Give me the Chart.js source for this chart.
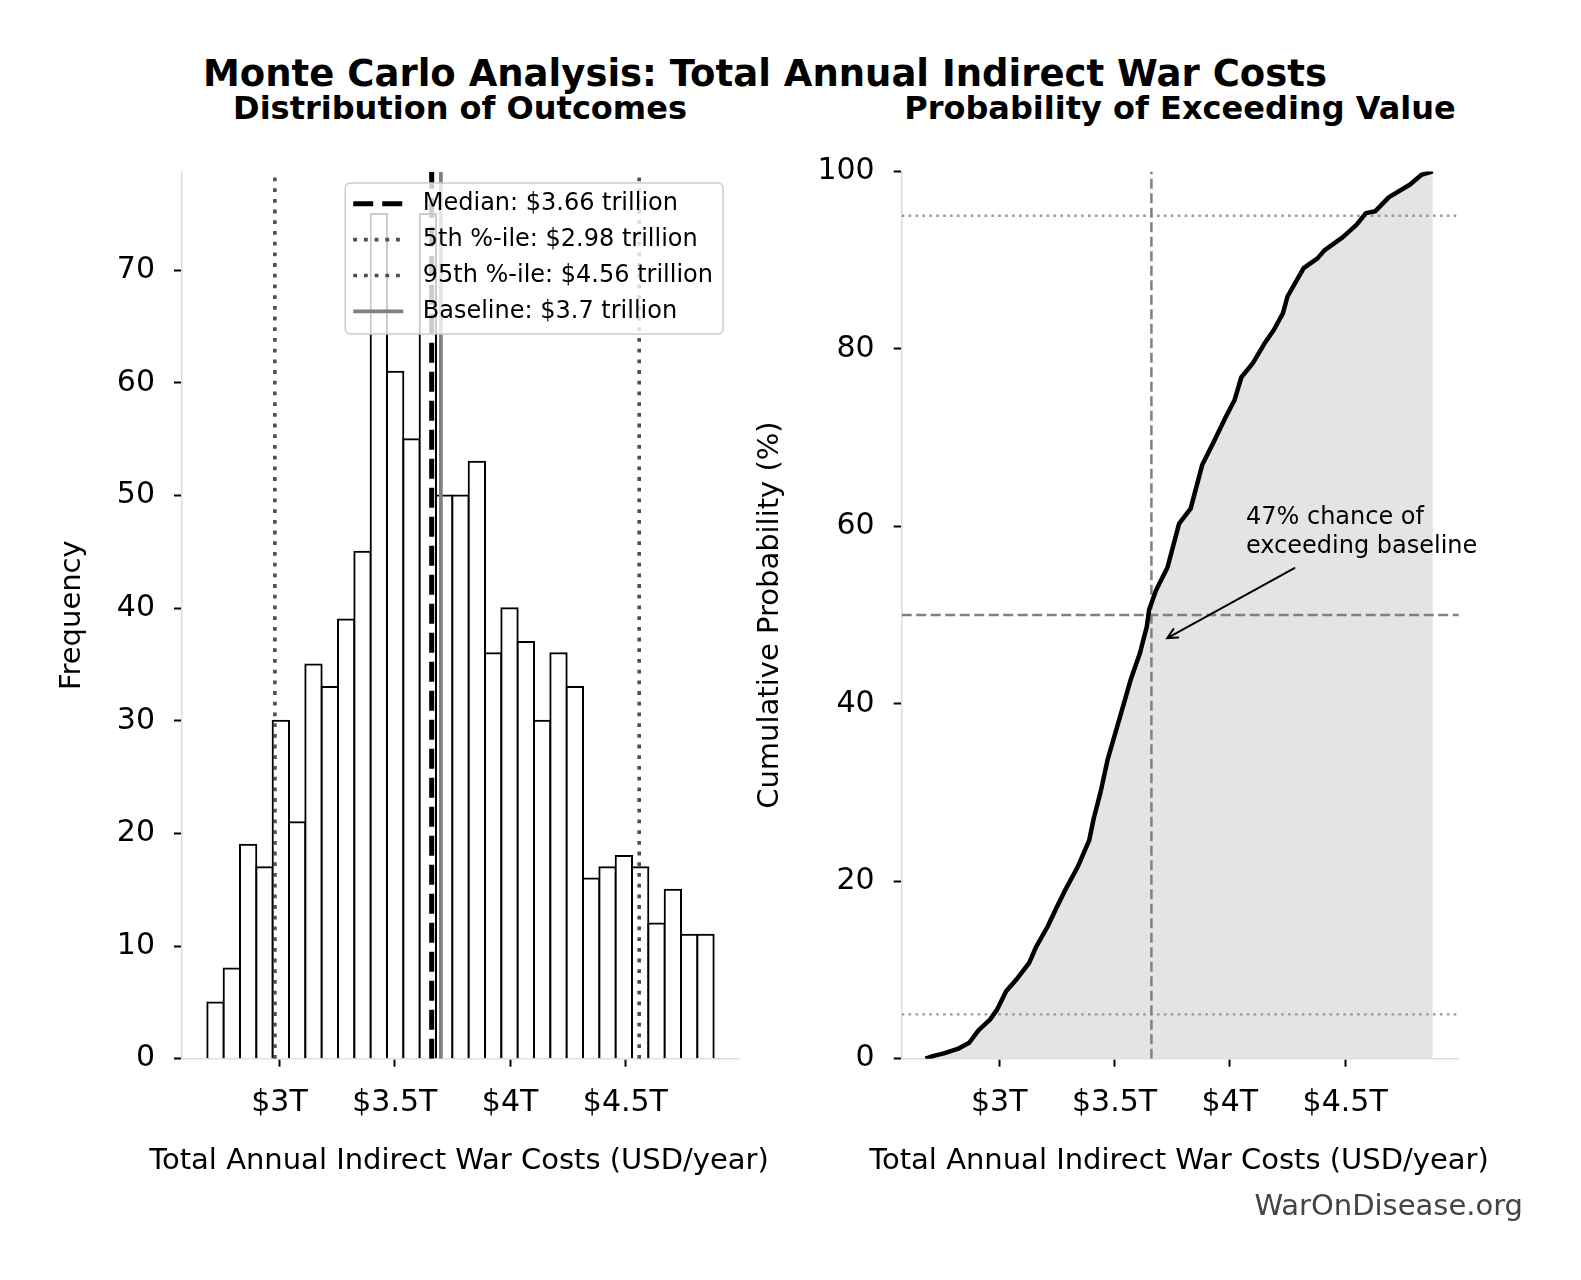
<!DOCTYPE html>
<html>
<head>
<meta charset="utf-8">
<title>Monte Carlo Analysis: Total Annual Indirect War Costs</title>
<script src="https://cdn.jsdelivr.net/npm/chart.js@4.4.0/dist/chart.umd.min.js"></script>
<style>
  html, body { margin: 0; padding: 0; background: #fff; }
  body { width: 1581px; height: 1280px; position: relative; overflow: hidden; font-family: 'DejaVu Sans', sans-serif; }
  .txt { position: absolute; white-space: nowrap; line-height: 1; transform: translate(-50%, -50%); color: #000; }
  .panel { position: absolute; }
  .xlabel { font-size: 29px; top: 1159px; }
</style>
</head>
<body>
<div class="txt" style="left:765px; top:73px; font-size:37px; font-weight:bold;">Monte Carlo Analysis: Total Annual Indirect War Costs</div>
<div class="txt" style="left:460px; top:108px; font-size:32px; font-weight:bold;">Distribution of Outcomes</div>
<div class="txt" style="left:1180px; top:108px; font-size:32px; font-weight:bold;">Probability of Exceeding Value</div>

<div class="panel" style="left:0px; top:150px;"><canvas id="histChart" width="760" height="1050"></canvas></div>
<div class="panel" style="left:740px; top:150px;"><canvas id="cdfChart" width="841" height="1050"></canvas></div>

<!-- x-axis titles: wider than the plot area, so kept out of Chart.js (it would squeeze them) -->
<div class="txt xlabel" style="left:459px;">Total Annual Indirect War Costs (USD/year)</div>
<div class="txt xlabel" style="left:1179px;">Total Annual Indirect War Costs (USD/year)</div>

<div class="txt" style="left:1523px; top:1205px; font-size:29px; color:#444; transform:translate(-100%, -50%);">WarOnDisease.org</div>

<script>
// ---- data ----
// histogram bin edges (USD trillions) and counts (1000 simulated draws)
const binEdges = [2.6870, 2.7578, 2.8287, 2.8995, 2.9704, 3.0412, 3.1120, 3.1829, 3.2537, 3.3246,
                  3.3954, 3.4662, 3.5371, 3.6079, 3.6787, 3.7496, 3.8204, 3.8913, 3.9621, 4.0329,
                  4.1038, 4.1746, 4.2454, 4.3163, 4.3871, 4.4580, 4.5288, 4.5996, 4.6705, 4.7413,
                  4.8121, 4.8830];
const binCounts = [5, 8, 19, 17, 30, 21, 35, 33, 39, 45,
                   75, 61, 55, 75, 50, 50, 53, 36, 40, 37,
                   30, 36, 33, 16, 17, 18, 17, 12, 15, 11, 11];

const medianValue = 3.66;
const p5Value = 2.98;
const p95Value = 4.56;
const baselineValue = 3.7;

// empirical cumulative distribution (x in USD trillions, y in %)
const cdfX = [2.68, 2.72, 2.76, 2.82, 2.87, 2.91, 2.96, 2.99, 3.03, 3.08,
              3.13, 3.16, 3.21, 3.25, 3.29, 3.34, 3.39, 3.41, 3.44, 3.47,
              3.52, 3.57, 3.61, 3.64, 3.65, 3.68, 3.73, 3.78, 3.83, 3.88,
              3.93, 3.98, 4.02, 4.05, 4.10, 4.15, 4.19, 4.23, 4.25, 4.32,
              4.38, 4.41, 4.49, 4.55, 4.59, 4.63, 4.69, 4.78, 4.83, 4.88];
const cdfY = [0, 0.35, 0.6, 1.1, 1.8, 3.2, 4.4, 5.5, 7.6, 9.1,
              10.8, 12.6, 14.9, 17.1, 19.2, 21.6, 24.6, 27.1, 30.1, 33.7,
              38.2, 42.7, 45.7, 48.7, 50.6, 52.8, 55.4, 60.3, 62.0, 66.9,
              69.5, 72.2, 74.2, 76.8, 78.4, 80.6, 82.1, 84.0, 85.9, 89.1,
              90.2, 91.1, 92.6, 94.0, 95.3, 95.5, 97.1, 98.5, 99.6, 100];

const xTickValues = [3, 3.5, 4, 4.5];
const xTickLabels = ['$3T', '$3.5T', '$4T', '$4.5T'];
const freqTickStep = 10;
const probTickStep = 20;

const exceedPct = 47;
const annotationLines = [exceedPct + '% chance of', 'exceeding baseline'];
const annotationPoint = [baselineValue, exceedPct];   // arrow head
const annotationTextAt = [4.07, 57];                  // left / baseline of last line
const annotationTail = [4.28, 55.3];                  // arrow start

// ---- shared settings ----
const FONT = "'DejaVu Sans', sans-serif";
Chart.defaults.font.family = FONT;
Chart.defaults.color = '#000';

// x limits like matplotlib's 5% margins around the data
const dataSpan = binEdges[binEdges.length - 1] - binEdges[0];
const xMin = binEdges[0] - 0.05 * dataSpan;
const xMax = binEdges[binEdges.length - 1] + 0.05 * dataSpan;
const freqMax = Math.max(...binCounts) * 1.05;

function xAxis() {
    return {
        type: 'linear',
        min: xMin,
        max: xMax,
        offset: false,
        afterBuildTicks: function(scale) {
            scale.ticks = xTickValues.map(v => ({ value: v }));
        },
        afterFit: function(scale) {
            scale.height = 141.3;
            scale.paddingLeft = 0;
            scale.paddingRight = 0;
        },
        ticks: {
            callback: function(value) {
                const i = xTickValues.indexOf(value);
                return i >= 0 ? xTickLabels[i] : '';
            },
            font: { size: 30 },
            color: '#000',
            padding: 19,
            maxRotation: 0,
            autoSkip: false
        },
        grid: {
            display: true,
            drawOnChartArea: false,
            drawTicks: true,
            tickLength: 8,
            tickColor: '#000',
            tickWidth: 2,
            offset: false
        },
        border: { display: true, color: '#dddddd', width: 1.5 },
        title: { display: false }
    };
}

function yAxis(opts) {
    return {
        type: 'linear',
        min: 0,
        max: opts.max,
        afterFit: function(scale) {
            scale.width = opts.width;
            scale.paddingTop = 0;
            scale.paddingBottom = 0;
        },
        ticks: {
            stepSize: opts.step,
            includeBounds: false,
            font: { size: 30 },
            color: '#000',
            padding: 19
        },
        grid: {
            display: true,
            drawOnChartArea: false,
            drawTicks: true,
            tickLength: 8,
            tickColor: '#000',
            tickWidth: 2
        },
        border: { display: true, color: '#dddddd', width: 1.5 },
        title: {
            display: true,
            text: opts.title,
            font: { size: 29 },
            color: '#000',
            padding: { top: opts.titlePad, bottom: 0 }
        }
    };
}

function vLine(x, yTop, style) {
    return Object.assign({
        type: 'line',
        data: [{ x: x, y: 0 }, { x: x, y: yTop }],
        pointRadius: 0,
        fill: false,
        tension: 0,
        borderCapStyle: 'butt'
    }, style);
}

function hLine(y, style) {
    return Object.assign({
        type: 'line',
        data: [{ x: xMin, y: y }, { x: xMax, y: y }],
        pointRadius: 0,
        fill: false,
        tension: 0,
        borderCapStyle: 'butt'
    }, style);
}

// legend box drawn inside the plot, like matplotlib's
const histLegend = {
    id: 'histLegend',
    afterDatasetsDraw(chart) {
        const ctx = chart.ctx;
        const area = chart.chartArea;
        const items = chart.data.datasets.filter(d => d.legendText);
        ctx.save();
        ctx.font = '24px ' + FONT;
        const textW = Math.max(...items.map(d => ctx.measureText(d.legendText).width));
        const rowH = 35.9, padX = 8, sampleW = 50, gap = 19.5;
        const boxW = padX + sampleW + gap + textW + 10;
        const boxH = rowH * items.length + 7.4;
        const x0 = area.right - 16 - boxW;
        const y0 = area.top + 11.3;

        ctx.beginPath();
        ctx.roundRect(x0, y0, boxW, boxH, 5);
        ctx.fillStyle = 'rgba(255, 255, 255, 0.8)';
        ctx.fill();
        ctx.strokeStyle = '#cccccc';
        ctx.lineWidth = 1.5;
        ctx.stroke();

        items.forEach((d, i) => {
            const cy = y0 + 20.7 + i * rowH;
            ctx.beginPath();
            ctx.setLineDash(d.borderDash || []);
            ctx.lineWidth = d.borderWidth;
            ctx.strokeStyle = d.borderColor;
            ctx.lineCap = 'butt';
            ctx.moveTo(x0 + padX, cy);
            ctx.lineTo(x0 + padX + sampleW, cy);
            ctx.stroke();
            ctx.setLineDash([]);
            ctx.fillStyle = '#000';
            ctx.textBaseline = 'middle';
            ctx.textAlign = 'left';
            ctx.fillText(d.legendText, x0 + padX + sampleW + gap, cy);
        });
        ctx.restore();
    }
};

// text + arrow annotation on the CDF panel
const cdfAnnotation = {
    id: 'cdfAnnotation',
    afterDatasetsDraw(chart) {
        const ctx = chart.ctx;
        const xs = chart.scales.x, ys = chart.scales.y;
        const tx = xs.getPixelForValue(annotationTextAt[0]);
        const ty = ys.getPixelForValue(annotationTextAt[1]);
        const lineH = 29;
        ctx.save();
        ctx.font = '24px ' + FONT;
        ctx.fillStyle = '#000';
        ctx.textAlign = 'left';
        ctx.textBaseline = 'alphabetic';
        annotationLines.forEach((t, i) => {
            ctx.fillText(t, tx, ty - (annotationLines.length - 1 - i) * lineH);
        });

        // arrow '->' from tail to point, shrunk a little at the head end
        const ax = xs.getPixelForValue(annotationTail[0]);
        const ay = ys.getPixelForValue(annotationTail[1]);
        let bx = xs.getPixelForValue(annotationPoint[0]);
        let by = ys.getPixelForValue(annotationPoint[1]);
        const len = Math.hypot(bx - ax, by - ay);
        const ux = (bx - ax) / len, uy = (by - ay) / len;
        bx -= ux * 7.5;
        by -= uy * 7.5;
        ctx.strokeStyle = '#000';
        ctx.lineWidth = 2;
        ctx.lineCap = 'round';
        ctx.beginPath();
        ctx.moveTo(ax, ay);
        ctx.lineTo(bx, by);
        const ang = Math.atan2(uy, ux);
        const hl = 11, spread = 0.46;
        ctx.moveTo(bx - hl * Math.cos(ang - spread), by - hl * Math.sin(ang - spread));
        ctx.lineTo(bx, by);
        ctx.lineTo(bx - hl * Math.cos(ang + spread), by - hl * Math.sin(ang + spread));
        ctx.stroke();
        ctx.restore();
    }
};

// ---- left panel: histogram ----
const histBars = binCounts.map((c, i) => ({ x: (binEdges[i] + binEdges[i + 1]) / 2, y: c }));

new Chart(document.getElementById('histChart'), {
    type: 'bar',
    data: {
        datasets: [
            vLine(medianValue, freqMax, {
                legendText: 'Median: $' + medianValue + ' trillion',
                borderColor: '#000000', borderWidth: 5, borderDash: [20, 9], order: 1
            }),
            vLine(p5Value, freqMax, {
                legendText: '5th %-ile: $' + p5Value + ' trillion',
                borderColor: '#4d4d4d', borderWidth: 3.6, borderDash: [3.8, 6.9], order: 1
            }),
            vLine(p95Value, freqMax, {
                legendText: '95th %-ile: $' + p95Value + ' trillion',
                borderColor: '#4d4d4d', borderWidth: 3.6, borderDash: [3.8, 6.9], order: 1
            }),
            vLine(baselineValue, freqMax, {
                legendText: 'Baseline: $' + baselineValue + ' trillion',
                borderColor: '#808080', borderWidth: 3.8, order: 1
            }),
            {
                type: 'bar',
                data: histBars,
                backgroundColor: '#ffffff',
                borderColor: '#000000',
                borderWidth: 2,
                inflateAmount: 1,
                borderSkipped: 'start',
                barPercentage: 1,
                categoryPercentage: 1,
                order: 2
            }
        ]
    },
    options: {
        responsive: false,
        animation: false,
        events: [],
        layout: { padding: { top: 21.7, right: 21, left: 0, bottom: 0 } },
        plugins: { legend: { display: false }, tooltip: { enabled: false } },
        scales: {
            x: xAxis(),
            y: yAxis({ max: freqMax, step: freqTickStep, width: 182, title: 'Frequency', titlePad: 55.2 })
        }
    },
    plugins: [histLegend]
});

// ---- right panel: cumulative probability ----
const cdfPoints = cdfX.map((x, i) => ({ x: x, y: cdfY[i] }));

new Chart(document.getElementById('cdfChart'), {
    type: 'line',
    data: {
        datasets: [
            {
                data: cdfPoints,
                borderColor: '#000000',
                borderWidth: 4.5,
                backgroundColor: '#e4e4e4',
                fill: 'origin',
                pointRadius: 0,
                tension: 0,
                borderJoinStyle: 'round',
                order: 0
            },
            vLine(medianValue, 100, { borderColor: '#808080', borderWidth: 2.5, borderDash: [10, 4.5], order: 1 }),
            hLine(50, { borderColor: '#808080', borderWidth: 2.5, borderDash: [10, 4.5], order: 1 }),
            hLine(95, { borderColor: '#999999', borderWidth: 2.4, borderDash: [2.6, 4.3], order: 1 }),
            hLine(5, { borderColor: '#999999', borderWidth: 2.4, borderDash: [2.6, 4.3], order: 1 })
        ]
    },
    options: {
        responsive: false,
        animation: false,
        events: [],
        layout: { padding: { top: 21.4, right: 122.2, left: 0, bottom: 0 } },
        plugins: {
            legend: { display: false },
            tooltip: { enabled: false },
            filler: { drawTime: 'beforeDatasetsDraw' }
        },
        scales: {
            x: xAxis(),
            y: yAxis({ max: 100, step: probTickStep, width: 161.7, title: 'Cumulative Probability (%)', titlePad: 13 })
        }
    },
    plugins: [cdfAnnotation]
});
</script>
</body>
</html>
